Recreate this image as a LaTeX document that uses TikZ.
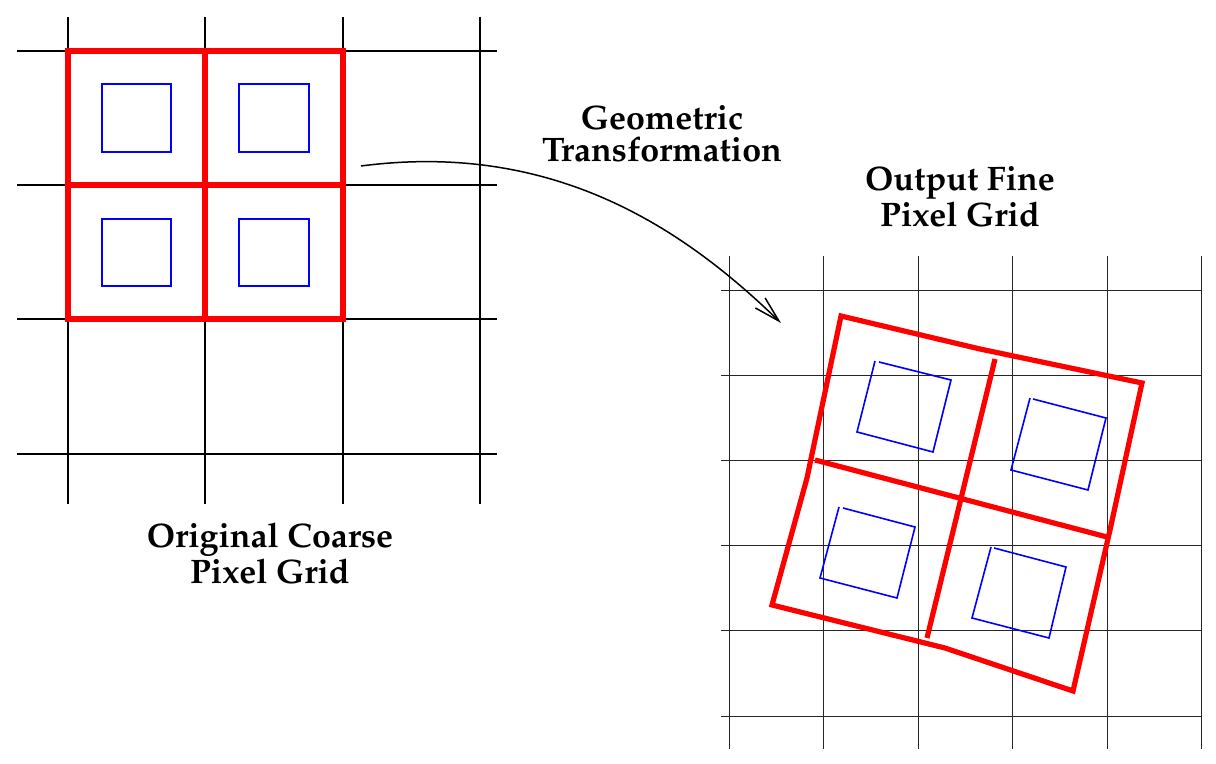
\documentclass[tikz,border=0pt]{standalone}
\usepackage[T1]{fontenc}
\usepackage{mathpazo}
\usetikzlibrary{arrows.meta}
\tikzset{
	coarse/.style={line width=0.8pt, color=black},
	fine/.style={line width=0.45pt, color=black!85},
	cell/.style={line width=2.6pt, color=red},
	pix/.style={line width=0.8pt, color=blue},
	gridlabel/.style={font=\fontsize{17}{18}\selectfont\bfseries, align=center, anchor=base, inner sep=0pt},
	warp/.style={line width=0.75pt, -{Straight Barb[length=13pt,width=7pt]}}
}

\begin{document}
\begin{tikzpicture}[x=0.5pt, y=-0.5pt]
		\useasboundingbox (0, 0) rectangle (1216, 764);
		%%%%% COARSE GRID %%%%%
		
		\draw[coarse] (68, 17) -- (68, 504);
		\draw[coarse] (205, 17) -- (205, 504);
		\draw[coarse] (343, 17) -- (343, 504);
		\draw[coarse] (480, 17) -- (480, 504);
		\draw[coarse] (17, 51) -- (497, 51);
		\draw[coarse] (17, 185) -- (497, 185);
		\draw[coarse] (17, 319) -- (497, 319);
		\draw[coarse] (17, 454) -- (497, 454);
		
		\draw[cell] (68, 51) rectangle (343, 319);
		\draw[cell] (205, 51) -- (205, 319);
		\draw[cell] (68, 185) -- (343, 185);
		
		\draw[pix] (102, 84) rectangle (171, 152);
		\draw[pix] (239, 84) rectangle (309, 152);
		\draw[pix] (102, 219) rectangle (171, 286);
		\draw[pix] (239, 219) rectangle (309, 286);
		
		\node[gridlabel] (orig) at (270, 583) {Original Coarse\\Pixel Grid};
		
		%%%%% FINE GRID %%%%%
		
		\draw[fine] (729, 256) -- (729, 749);
		\draw[fine] (823, 256) -- (823, 749);
		\draw[fine] (918, 256) -- (918, 749);
		\draw[fine] (1012, 256) -- (1012, 749);
		\draw[fine] (1107, 256) -- (1107, 749);
		\draw[fine] (1201, 256) -- (1201, 749);
		\draw[fine] (721, 290) -- (1201, 290);
		\draw[fine] (721, 375) -- (1201, 375);
		\draw[fine] (721, 460) -- (1201, 460);
		\draw[fine] (721, 545) -- (1201, 545);
		\draw[fine] (721, 630) -- (1201, 630);
		\draw[fine] (721, 716) -- (1201, 716);
		
		\draw[cell] (841, 316) -- (980, 349) -- (1142, 383) -- (1110, 530) -- (1073, 691)
			-- (945, 648) -- (772, 605) -- (807, 478) -- cycle;
		\draw[cell] (995, 359) -- (927, 638);
		\draw[cell] (815, 460) -- (1107, 537);
		
		\draw[pix] (875, 361) -- (857, 432) -- (933, 452) -- (951, 380) -- (879, 362);
		\draw[pix] (1030, 398) -- (1011, 470) -- (1088, 490) -- (1106, 418) -- (1033, 399);
		\draw[pix] (839, 507) -- (820, 578) -- (897, 598) -- (915, 527) -- (843, 508);
		\draw[pix] (991, 547) -- (972, 618) -- (1049, 638) -- (1066, 567) -- (994, 548);
		
		\node[gridlabel] (fine) at (960, 227) {Output Fine\\Pixel Grid};
		
		%%%%% TRANSFORMATION %%%%%
		
		\node[gridlabel, font=\fontsize{17}{16}\selectfont\bfseries] (xform) at (662, 162) {Geometric\\Transformation};
		\coordinate (src) at (361, 166);
		\coordinate (dst) at (781, 323);
		\draw[warp] (src) .. controls (560, 140) and (690, 235) .. (dst);
		
		%%%%% END %%%%%
	\end{tikzpicture}
\end{document}
